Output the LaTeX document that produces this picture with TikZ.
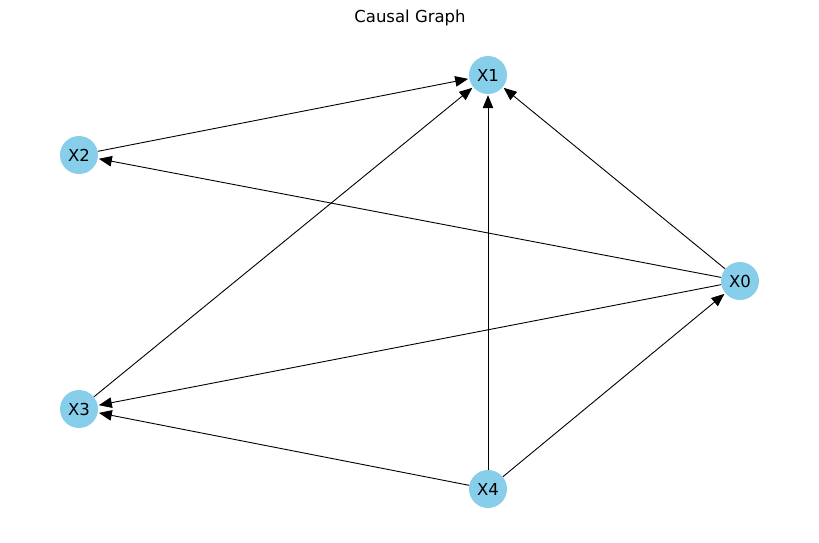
\documentclass[tikz,border=0pt]{standalone}
\usepackage{fontspec}
\setmainfont{DejaVu Sans}
\usepackage{xcolor}
\usepackage{tikz}
\usetikzlibrary{positioning,arrows.meta}
\definecolor{skyblue}{RGB}{135,206,235}

\begin{document}
\begin{tikzpicture}[x=1pt,y=-1pt,
    var/.style={circle,fill=skyblue,minimum size=38pt,inner sep=0pt,font=\fontsize{16.5}{19}\selectfont},
    edge/.style={-{Triangle[length=13pt,width=10.5pt]},line width=0.9pt,shorten >=1pt}]
    \useasboundingbox (0,0) rectangle (819,542);
    \node[font=\fontsize{16.5}{19}\selectfont] (title) at (410,18) {Causal Graph};
    \node[var] (X1) at (488,75) {X1};
    \node[var] (X2) at (79,155) {X2};
    \node[var] (X0) at (740,281) {X0};
    \node[var] (X3) at (79,409) {X3};
    \node[var] (X4) at (488,489) {X4};
    \draw[edge] (X2) -- (X1);
    \draw[edge] (X3) -- (X1);
    \draw[edge] (X4) -- (X1);
    \draw[edge] (X0) -- (X1);
    \draw[edge] (X0) -- (X2);
    \draw[edge] (X0) -- (X3);
    \draw[edge] (X4) -- (X3);
    \draw[edge] (X4) -- (X0);
\end{tikzpicture}
\end{document}
